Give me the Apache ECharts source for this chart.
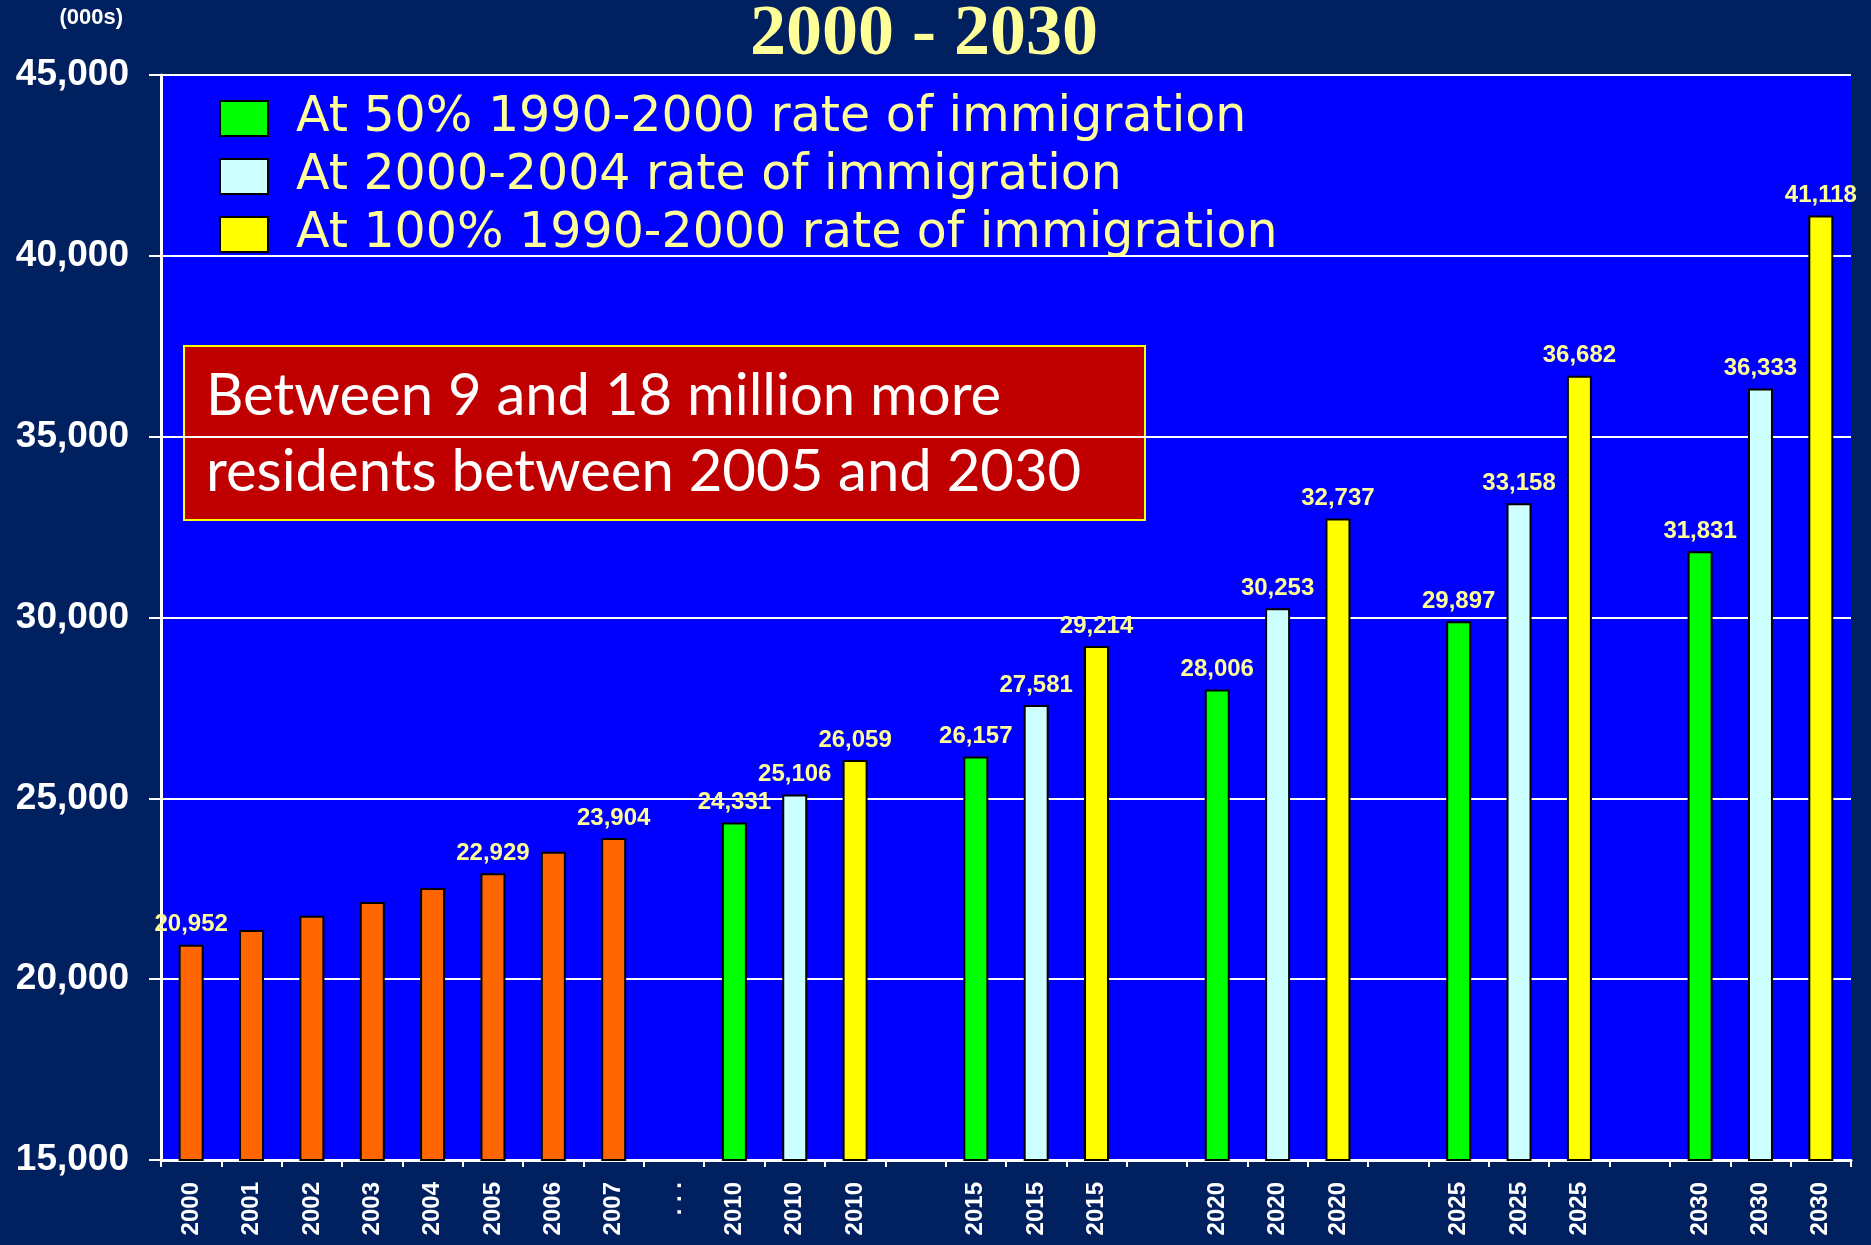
<!DOCTYPE html>
<html>
<head>
<meta charset="utf-8">
<script src="https://cdn.jsdelivr.net/npm/echarts@6/dist/echarts.min.js"></script>
<style>
  html, body { margin: 0; padding: 0; background: #002060; }
  #chart { width: 1871px; height: 1245px; }
</style>
</head>
<body>
<div id="chart"></div>
<script>
// category slots along the x axis ('' = empty gap)
var categories = ['2000', '2001', '2002', '2003', '2004', '2005', '2006', '2007', '. . .',
  '2010', '2010', '2010', '',
  '2015', '2015', '2015', '',
  '2020', '2020', '2020', '',
  '2025', '2025', '2025', '',
  '2030', '2030', '2030'];

// actual / estimated 2000-2007 (thousands)
var actualValues = [20952, 21358, 21756, 22134, 22522, 22929, 23520, 23904];
var actualLabeled = [true, false, false, false, false, true, false, true];

// projection years and the three scenarios
var projYears = ['2010', '2015', '2020', '2025', '2030'];
var half9000 = [24331, 26157, 28006, 29897, 31831];
var rate0004 = [25106, 27581, 30253, 33158, 36333];
var full9000 = [26059, 29214, 32737, 36682, 41118];

var seriesNames = ['At 50% 1990-2000 rate of immigration',
  'At 2000-2004 rate of immigration',
  'At 100% 1990-2000 rate of immigration'];

var yTicks = { min: 15000, max: 45000, interval: 5000 };

var labelStyle = {
  show: true, position: 'top', distance: 8,
  color: '#FFFF99', fontFamily: 'Liberation Sans', fontWeight: 'bold', fontSize: 24,
  formatter: function (p) { return p.value.toLocaleString('en-US'); }
};

function emptyRow() { return categories.map(function () { return null; }); }

var orangeData = emptyRow();
actualValues.forEach(function (v, i) {
  orangeData[i] = { value: v, label: { show: actualLabeled[i] } };
});

// projected bars sit in slot 9 + 4*k + offset
function projRow(values, offset) {
  var row = emptyRow();
  values.forEach(function (v, k) { row[9 + 4 * k + offset] = v; });
  return row;
}

var myChart = echarts.init(document.getElementById('chart'));

function barSeries(name, color, data) {
  return {
    name: name, type: 'bar', data: data, barWidth: 25, barGap: '-100%',
    itemStyle: { color: color, borderColor: '#000', borderWidth: 2 },
    label: labelStyle
  };
}

myChart.setOption({
  backgroundColor: '#002060',
  animation: false,
  title: {
    text: '2000 - 2030', left: 745, top: -6,
    textStyle: { color: '#FFFF99', fontFamily: 'Liberation Serif', fontWeight: 'bold', fontSize: 72 }
  },
  legend: {
    data: seriesNames, orient: 'vertical', left: 214, top: 89,
    itemWidth: 48, itemHeight: 35, itemGap: 9, icon: 'rect',
    textStyle: { color: '#FFFF99', fontFamily: 'DejaVu Sans', fontSize: 49, lineHeight: 35, padding: [0, 0, 0, 23] }
  },
  grid: {
    left: 161, right: 20, top: 75, bottom: 85,
    show: true, backgroundColor: '#0000FF', borderWidth: 0
  },
  xAxis: {
    type: 'category', data: categories,
    axisLine: { lineStyle: { color: '#fff', width: 3 } },
    axisTick: { show: true, length: 7, lineStyle: { color: '#fff', width: 2 } },
    axisLabel: {
      interval: 0, rotate: 90, margin: 22, color: '#fff',
      fontFamily: 'Liberation Sans', fontWeight: 'bold', fontSize: 24
    }
  },
  yAxis: {
    type: 'value', min: yTicks.min, max: yTicks.max, interval: yTicks.interval,
    name: '(000s)', nameLocation: 'end', nameGap: 46,
    nameTextStyle: { color: '#fff', fontFamily: 'Liberation Sans', fontWeight: 'bold', fontSize: 22, align: 'right', padding: [0, 38, 0, 0] },
    axisLine: { show: true, lineStyle: { color: '#fff', width: 3 } },
    axisTick: { show: true, length: 12, lineStyle: { color: '#fff', width: 2 } },
    splitLine: { lineStyle: { color: '#fff', width: 2 } },
    axisLabel: {
      margin: 32, color: '#fff', fontFamily: 'Liberation Sans', fontWeight: 'bold', fontSize: 37,
      formatter: function (v) { return v.toLocaleString('en-US'); }
    }
  },
  graphic: [{
    type: 'group', left: 183, top: 345,
    children: [
      { type: 'rect', shape: { x: 0, y: 0, width: 961, height: 174 },
        style: { fill: '#C00000', stroke: '#FFFF00', lineWidth: 2 } },
      { type: 'text', x: 22, y: 12,
        style: { text: 'Between 9 and 18 million more\nresidents between 2005 and 2030',
          fill: '#fff', font: '58px Lato', lineHeight: 76 } }
    ]
  }],
  series: [
    barSeries('actual', '#FF6600', orangeData),
    barSeries(seriesNames[0], '#00FF00', projRow(half9000, 0)),
    barSeries(seriesNames[1], '#CCFFFF', projRow(rate0004, 1)),
    barSeries(seriesNames[2], '#FFFF00', projRow(full9000, 2))
  ]
});
</script>
</body>
</html>
